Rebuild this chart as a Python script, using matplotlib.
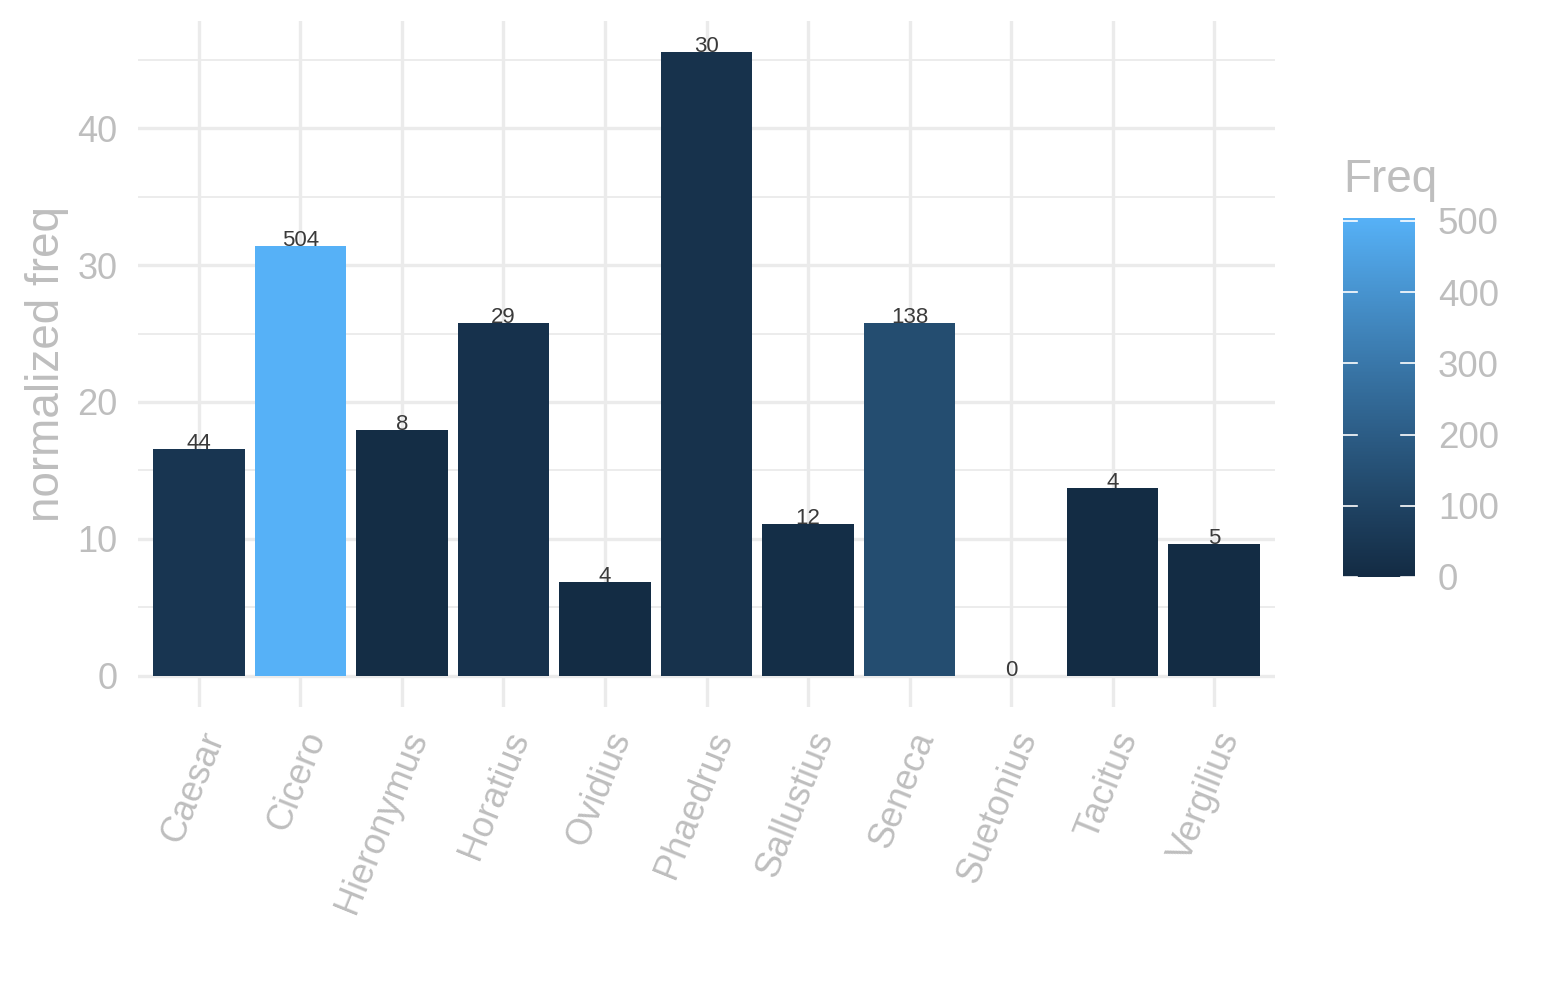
"""
Normalized frequency per author, bars filled by raw frequency (ggplot-like look).
"""
import numpy as np
import matplotlib
matplotlib.use("Agg")
import matplotlib.pyplot as plt
from matplotlib.colors import ListedColormap, Normalize, to_rgb
from matplotlib.cm import ScalarMappable
from matplotlib.ticker import MultipleLocator

plt.rcParams["font.family"] = ["Liberation Sans", "DejaVu Sans"]

# ── Data ──────────────────────────────────────────────────────────────────────
authors = ["Caesar", "Cicero", "Hieronymus", "Horatius", "Ovidius", "Phaedrus",
           "Sallustius", "Seneca", "Suetonius", "Tacitus", "Vergilius"]
norm_freq = [16.55, 31.37, 17.99, 25.75, 6.87, 45.55, 11.11, 25.75, 0.0, 13.75, 9.65]
freq = [44, 504, 8, 29, 4, 30, 12, 138, 0, 4, 5]

LOW, HIGH = "#132B43", "#56B1F7"
GREY_TXT = "#BEBEBE"
GRID = "#EBEBEB"


# ── Lab-space gradient (as ggplot's scale_fill_gradient) ─────────────────────
def _srgb_to_lab(rgb):
    c = np.asarray(rgb, dtype=float)
    c = np.where(c <= 0.04045, c / 12.92, ((c + 0.055) / 1.055) ** 2.4)
    m = np.array([[0.4124, 0.3576, 0.1805],
                  [0.2126, 0.7152, 0.0722],
                  [0.0193, 0.1192, 0.9505]])
    xyz = m @ c / np.array([0.95047, 1.0, 1.08883])
    f = np.where(xyz > 0.008856, np.cbrt(xyz), 7.787 * xyz + 16 / 116)
    return np.array([116 * f[1] - 16, 500 * (f[0] - f[1]), 200 * (f[1] - f[2])])


def _lab_to_srgb(lab):
    L, a, b = lab
    fy = (L + 16) / 116
    fx = fy + a / 500
    fz = fy - b / 200
    f = np.array([fx, fy, fz])
    xyz = np.where(f ** 3 > 0.008856, f ** 3, (f - 16 / 116) / 7.787)
    xyz = xyz * np.array([0.95047, 1.0, 1.08883])
    m = np.array([[3.2406, -1.5372, -0.4986],
                  [-0.9689, 1.8758, 0.0415],
                  [0.0557, -0.2040, 1.0570]])
    c = m @ xyz
    c = np.where(c <= 0.0031308, 12.92 * c, 1.055 * np.clip(c, 0, None) ** (1 / 2.4) - 0.055)
    return np.clip(c, 0, 1)


lab_lo, lab_hi = _srgb_to_lab(to_rgb(LOW)), _srgb_to_lab(to_rgb(HIGH))
ramp = [_lab_to_srgb(lab_lo + t * (lab_hi - lab_lo)) for t in np.linspace(0, 1, 256)]
cmap = ListedColormap(ramp)
norm = Normalize(vmin=min(freq), vmax=max(freq))

# ── Plot ──────────────────────────────────────────────────────────────────────
fig = plt.figure(figsize=(15.45, 10), dpi=100)
ax = fig.add_axes([138 / 1545, 1 - 707 / 1000, (1275 - 138) / 1545, (707 - 21) / 1000])

x = np.arange(len(authors))
ax.bar(x, norm_freq, width=0.9, color=[cmap(norm(f)) for f in freq],
       linewidth=0, zorder=3)
for xi, h, f in zip(x, norm_freq, freq):
    ax.text(xi, h, str(f), ha="center", va="baseline", fontsize=16,
            color="#3A3A3A", zorder=4)

ymax = max(norm_freq)
ax.set_xlim(-0.6, len(authors) - 0.4)
ax.set_ylim(-0.05 * ymax, ymax * 1.05)
ax.yaxis.set_major_locator(MultipleLocator(10))
ax.yaxis.set_minor_locator(MultipleLocator(5))
ax.set_xticks(x)
ax.set_xticklabels(authors, rotation=68, ha="right", va="top",
                   rotation_mode="anchor")

ax.grid(True, which="major", color=GRID, linewidth=2.4, zorder=0)
ax.grid(True, which="minor", axis="y", color=GRID, linewidth=1.3, zorder=0)
ax.set_axisbelow(True)
for s in ax.spines.values():
    s.set_visible(False)
ax.tick_params(axis="both", which="both", length=0, labelsize=26,
               labelcolor=GREY_TXT)
ax.tick_params(axis="x", pad=14)
ax.tick_params(axis="y", pad=15)
ax.set_ylabel("normalized freq", fontsize=33, color=GREY_TXT, labelpad=6)

# ── Colourbar legend ──────────────────────────────────────────────────────────
cax = fig.add_axes([1343 / 1545, 1 - 577 / 1000, 72 / 1545, (577 - 218) / 1000])
cb = fig.colorbar(ScalarMappable(norm=norm, cmap=cmap), cax=cax)
cb.outline.set_visible(False)
cb.set_ticks([0, 100, 200, 300, 400, 500])
cax.tick_params(length=0, labelsize=26.5, labelcolor=GREY_TXT, pad=16.5)
for t in [0, 100, 200, 300, 400, 500]:
    cax.plot([0, 0.2], [t, t], color="white", linewidth=1.2, transform=cax.get_yaxis_transform())
    cax.plot([0.8, 1.0], [t, t], color="white", linewidth=1.2, transform=cax.get_yaxis_transform())
fig.text(1343 / 1545, 1 - 192 / 1000, "Freq", fontsize=33, color=GREY_TXT,
         ha="left", va="baseline")

fig.savefig("out.png", dpi=100)
